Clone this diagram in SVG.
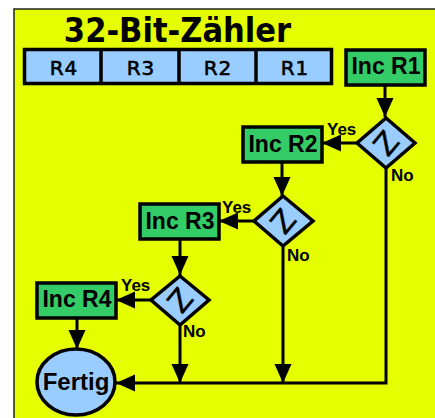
<svg xmlns="http://www.w3.org/2000/svg" width="435" height="418" viewBox="0 0 435 418">
<defs>
<style>
.bg{fill:#E6FF00;stroke:#222;stroke-width:1.5}
.reg{fill:#99CCFF;stroke:#000;stroke-width:3.5}
.inc{fill:#33CC66;stroke:#000;stroke-width:3.5}
.dia{fill:#99CCFF;stroke:#000;stroke-width:3.5;stroke-linejoin:miter}
.fin{fill:#99CCFF;stroke:#000;stroke-width:3.5}
.title{font-family:"DejaVu Sans Condensed","DejaVu Sans",sans-serif;font-weight:bold;font-size:34px;fill:#000}
.rl{font-family:"DejaVu Sans",sans-serif;font-size:20px;letter-spacing:1px;fill:#000;stroke:#000;stroke-width:0.6;text-anchor:middle}
.it{font-family:"Liberation Sans",Arial,sans-serif;font-weight:bold;font-size:23px;fill:#000;text-anchor:middle}
.yn{font-family:"Liberation Sans",Arial,sans-serif;font-weight:bold;font-size:17px;fill:#000}
.z{font-family:"DejaVu Sans",sans-serif;font-size:30px;fill:#000;stroke:#000;stroke-width:0.4;text-anchor:middle}
.c{fill:none;stroke:#000;stroke-width:3}
</style>
<marker id="ah" markerUnits="userSpaceOnUse" markerWidth="20" markerHeight="18" refX="19" refY="8.5" orient="auto">
<path d="M0,0 L19,8.5 L0,17 Z" fill="#000"/>
</marker>
</defs>
<rect class="bg" x="14" y="9" width="425" height="415"/>
<text class="title" x="177.5" y="42" text-anchor="middle">32-Bit-Zähler</text>
<g id="register">
<rect class="reg" x="24.5" y="49.5" width="307" height="34"/>
<line x1="101" y1="49.5" x2="101" y2="83.5" stroke="#000" stroke-width="3.5"/>
<line x1="179" y1="49.5" x2="179" y2="83.5" stroke="#000" stroke-width="3.5"/>
<line x1="256" y1="49.5" x2="256" y2="83.5" stroke="#000" stroke-width="3.5"/>
<text class="rl" x="64" y="75">R4</text>
<text class="rl" x="141" y="75">R3</text>
<text class="rl" x="218" y="75">R2</text>
<text class="rl" x="295" y="75">R1</text>
</g>
<g id="connectors">
<line class="c" x1="385" y1="85" x2="385" y2="117" marker-end="url(#ah)"/>
<line class="c" x1="357" y1="143" x2="322" y2="143" marker-end="url(#ah)"/>
<line class="c" x1="282" y1="162" x2="282" y2="196" marker-end="url(#ah)"/>
<line class="c" x1="254" y1="221" x2="219" y2="221" marker-end="url(#ah)"/>
<line class="c" x1="180" y1="239" x2="180" y2="275" marker-end="url(#ah)"/>
<line class="c" x1="151" y1="300" x2="116" y2="300" marker-end="url(#ah)"/>
<line class="c" x1="77" y1="318" x2="77" y2="349" marker-end="url(#ah)"/>
<path class="c" d="M386,168 V383 H116" marker-end="url(#ah)"/>
<line class="c" x1="283" y1="246" x2="283" y2="383" marker-end="url(#ah)"/>
<line class="c" x1="180" y1="325" x2="180" y2="383" marker-end="url(#ah)"/>
</g>
<g id="incR1">
<rect class="inc" x="346" y="50" width="79" height="35"/>
<text class="it" x="386" y="74">Inc R1</text>
</g>
<g id="z1">
<polygon class="dia" points="386,118 415,143 386,168 357,143"/>
<text class="z" x="386" y="154" transform="rotate(-50 386 143)">Z</text>
<text class="yn" x="327" y="135">Yes</text>
<text class="yn" x="391" y="181">No</text>
</g>
<g id="incR2">
<rect class="inc" x="243" y="127" width="79" height="35"/>
<text class="it" x="283" y="152">Inc R2</text>
</g>
<g id="z2">
<polygon class="dia" points="283,196 313,221 283,246 254,221"/>
<text class="z" x="283" y="232" transform="rotate(-50 283 221)">Z</text>
<text class="yn" x="222" y="213">Yes</text>
<text class="yn" x="287" y="261">No</text>
</g>
<g id="incR3">
<rect class="inc" x="140" y="204" width="79" height="35"/>
<text class="it" x="180" y="229">Inc R3</text>
</g>
<g id="z3">
<polygon class="dia" points="180,276 209,300 180,325 151,300"/>
<text class="z" x="180" y="311" transform="rotate(-50 180 300)">Z</text>
<text class="yn" x="121" y="291">Yes</text>
<text class="yn" x="183" y="337">No</text>
</g>
<g id="incR4">
<rect class="inc" x="37" y="283" width="79" height="35"/>
<text class="it" x="77" y="307">Inc R4</text>
</g>
<g id="fertig">
<ellipse class="fin" cx="76" cy="382" rx="39" ry="33"/>
<text class="it" x="76" y="390" style="font-size:24px">Fertig</text>
</g>
</svg>
